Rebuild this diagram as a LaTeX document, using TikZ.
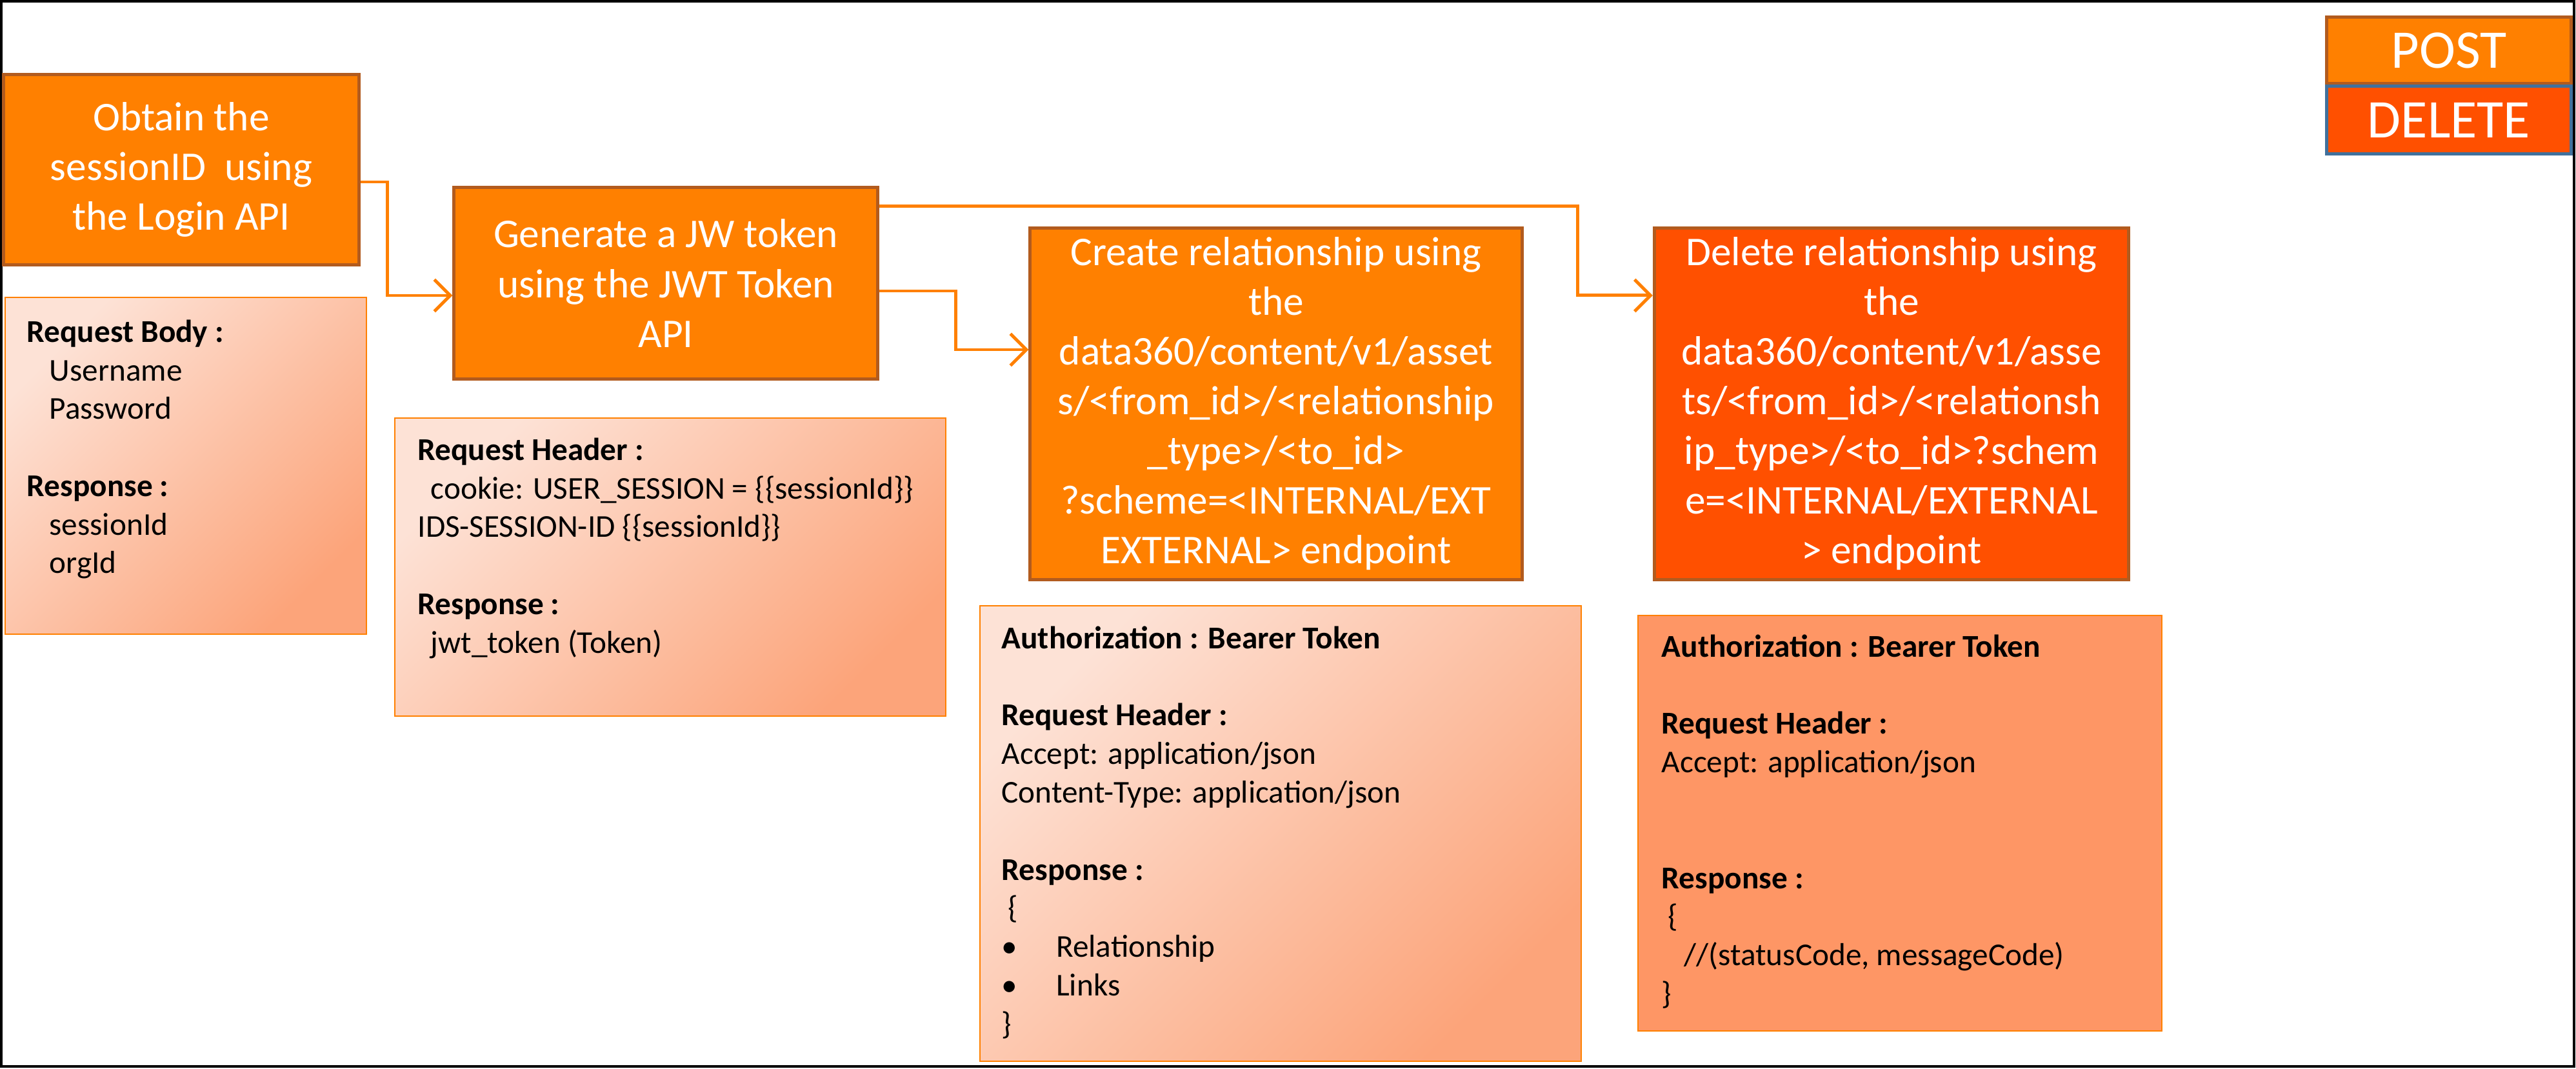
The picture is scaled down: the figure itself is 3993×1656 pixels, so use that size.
\documentclass[tikz,border=0pt]{standalone}
\usepackage{fontspec}
\setmainfont{Carlito}
\usetikzlibrary{arrows.meta}
\definecolor{org}{HTML}{FF8000}
\definecolor{dor}{HTML}{FF5000}
\definecolor{brn}{HTML}{B25B1E}
\definecolor{blu}{HTML}{41719C}
\definecolor{lt}{HTML}{FDE2D6}
\definecolor{dk}{HTML}{FCA47A}
\definecolor{pch}{HTML}{FE9665}
\begin{document}
\begin{tikzpicture}[x=0.01cm,y=-0.01cm,
  stepbox/.style={draw=brn,line width=1.4pt,fill=org,text=white,inner sep=0pt,align=center,
    font=\fontsize{18}{21.9}\selectfont},
  info/.style={draw=org,line width=0.6pt,inner sep=0pt,top color=lt,bottom color=dk,shading angle=45},
  itxt/.style={anchor=north west,align=left,inner sep=0pt,font=\fontsize{14}{17}\selectfont},
  arr/.style={draw=org,line width=1.4pt,-{Straight Barb[length=7pt,width=14pt,line width=1.4pt]}},
  leg/.style={line width=1.6pt,text=white,inner sep=0pt,font=\fontsize{24}{28}\selectfont}]
\useasboundingbox (0,0) rectangle (3993,1656);
\draw[line width=1.2pt] (2,2) rectangle (3990,1653);
% legend
\node[leg,draw=brn,fill=org,minimum width=3.79cm,minimum height=1.03cm] (post) at (3796,78) {POST};
\node[leg,draw=blu,fill=dor,minimum width=3.79cm,minimum height=1.05cm] (del) at (3796,186) {DELETE};
% steps
\node[stepbox,minimum width=5.50cm,minimum height=2.95cm] (b1) at (281,263) {Obtain the\\sessionID\ \ using\\the Login API};
\node[stepbox,minimum width=6.56cm,minimum height=2.96cm] (b2) at (1032,439) {Generate a JW token\\using the JWT Token\\API};
\node[stepbox,minimum width=7.62cm,minimum height=5.45cm] (b3) at (1978,626) {Create relationship using\\the\\data360/content/v1/asset\\s/<from\_id>/<relationship\\\_type>/<to\_id>\\?scheme=<INTERNAL/EXT\\EXTERNAL> endpoint};
\node[stepbox,fill=dor,minimum width=7.35cm,minimum height=5.45cm] (b4) at (2932,626) {Delete relationship using\\the\\data360/content/v1/asse\\ts/<from\_id>/<relationsh\\ip\_type>/<to\_id>?schem\\e=<INTERNAL/EXTERNAL\\> endpoint};
% info boxes
\node[info,minimum width=5.60cm,minimum height=5.22cm] (i1) at (288,722) {};
\node[info,minimum width=8.54cm,minimum height=4.61cm] (i2) at (1039,879) {};
\node[info,minimum width=9.32cm,minimum height=7.05cm] (i3) at (1985,1292) {};
\node[draw=org,line width=0.6pt,fill=pch,minimum width=8.11cm,minimum height=6.44cm] (i4) at (2945,1276) {};
\node[itxt] (t1) at (41,495) {\textbf{Request Body :}\\\hspace*{0.35cm}Username\\\hspace*{0.35cm}Password\\\mbox{}\\\textbf{Response :}\\\hspace*{0.35cm}sessionId\\\hspace*{0.35cm}orgId};
\node[itxt] (t2) at (647,678) {\textbf{Request Header :}\\\hspace*{0.2cm}cookie: USER\_SESSION = \{\{sessionId\}\}\\IDS-SESSION-ID \{\{sessionId\}\}\\\mbox{}\\\textbf{Response :}\\\hspace*{0.2cm}jwt\_token (Token)};
\node[itxt] (t3) at (1552,970) {\textbf{Authorization : Bearer Token}\\\mbox{}\\\textbf{Request Header :}\\Accept: application/json\\Content-Type: application/json\\\mbox{}\\\textbf{Response :}\\\hspace*{0.1cm}\{\\\textbullet\hspace{0.6cm}Relationship\\\textbullet\hspace{0.6cm}Links\\\}};
\node[itxt] (t4) at (2575,983) {\textbf{Authorization : Bearer Token}\\\mbox{}\\\textbf{Request Header :}\\Accept: application/json\\\mbox{}\\\mbox{}\\\textbf{Response :}\\\hspace*{0.1cm}\{\\\hspace*{0.35cm}//(statusCode, messageCode)\\\}};
% connectors
\draw[arr] ([yshift=-0.19cm]b1.east) -- ++(42,0) |- ([yshift=-0.19cm]b2.west);
\draw[arr] ([yshift=-0.12cm]b2.east) -- ++(119,0) |- ([yshift=0.84cm]b3.west);
\draw[arr] ([yshift=1.19cm]b2.east) -- ++(1083,0) |- ([yshift=1.68cm]b4.west);
\end{tikzpicture}
\end{document}
